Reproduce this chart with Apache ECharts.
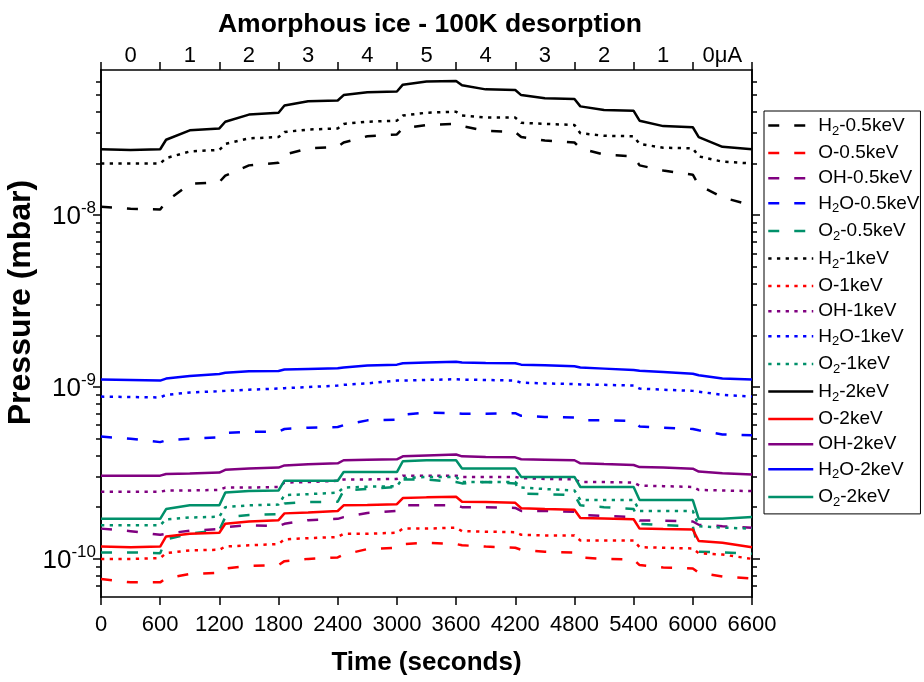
<!DOCTYPE html>
<html>
<head>
<meta charset="utf-8">
<title>Amorphous ice - 100K desorption</title>
<script src="https://cdn.jsdelivr.net/npm/echarts@6/dist/echarts.min.js"></script>
<style>
html, body { margin: 0; padding: 0; background: #fff; }
#chart { width: 924px; height: 682px; }
</style>
</head>
<body>
<div id="chart"></div>
<script>
// time (seconds) of every sample
const times = [0, 300, 600, 660, 900, 1200, 1260, 1500, 1800, 1860, 2100, 2400, 2460, 2700, 3000, 3060, 3300,
	3600, 3660, 3900, 4200, 4260, 4500, 4800, 4860, 5100, 5400, 5460, 5700, 6000, 6060, 6300, 6600];
// beam current labels of the top axis, one per 600 s step
const currentLabels = ["0", "1", "2", "3", "4", "5", "4", "3", "2", "1", "0μA"];
// pressures, in units of 1e-9 mbar
const h2_05 = [11.2, 10.9, 10.8, 12.0, 15.2, 15.6, 17.0, 19.5, 20.2, 22.5, 24.5, 25.0, 26.5, 28.8, 29.5, 32.0, 33.5,
	34.0, 33.0, 31.0, 30.5, 28.5, 27.2, 26.5, 24.5, 22.5, 22.0, 19.5, 18.2, 17.2, 15.0, 12.7, 11.4];
const o_05 = [0.0763, 0.073, 0.073, 0.077, 0.0816, 0.083, 0.088, 0.091, 0.092, 0.097, 0.100, 0.102, 0.106, 0.114, 0.116, 0.122, 0.124,
	0.122, 0.120, 0.118, 0.116, 0.113, 0.110, 0.109, 0.102, 0.100, 0.099, 0.092, 0.089, 0.088, 0.083, 0.079, 0.077];
const oh_05 = [0.150, 0.145, 0.138, 0.140, 0.146, 0.149, 0.153, 0.157, 0.155, 0.160, 0.168, 0.171, 0.175, 0.185, 0.190, 0.205, 0.205,
	0.205, 0.200, 0.200, 0.198, 0.190, 0.190, 0.188, 0.180, 0.178, 0.175, 0.167, 0.167, 0.165, 0.158, 0.155, 0.152];
const h2o_05 = [0.515, 0.500, 0.478, 0.490, 0.500, 0.510, 0.540, 0.550, 0.550, 0.570, 0.580, 0.585, 0.600, 0.640, 0.645, 0.690, 0.710,
	0.705, 0.700, 0.700, 0.705, 0.680, 0.670, 0.665, 0.640, 0.640, 0.635, 0.590, 0.580, 0.570, 0.560, 0.530, 0.525];
const o2_05 = [0.109, 0.109, 0.108, 0.130, 0.140, 0.147, 0.175, 0.180, 0.182, 0.210, 0.214, 0.215, 0.250, 0.255, 0.262, 0.290, 0.290,
	0.280, 0.275, 0.280, 0.275, 0.240, 0.238, 0.235, 0.205, 0.200, 0.195, 0.160, 0.157, 0.155, 0.110, 0.109, 0.107];
const h2_1 = [20.0, 20.0, 20.0, 21.5, 23.5, 24.0, 26.0, 28.0, 28.5, 30.5, 31.5, 32.0, 34.0, 35.0, 35.5, 38.0, 39.5,
	40.0, 38.0, 37.0, 37.0, 34.5, 34.0, 33.5, 30.0, 29.0, 28.8, 26.0, 24.7, 24.5, 22.0, 20.5, 20.0];
const o_1 = [0.100, 0.100, 0.101, 0.108, 0.112, 0.113, 0.118, 0.120, 0.122, 0.130, 0.132, 0.134, 0.140, 0.140, 0.142, 0.150, 0.150,
	0.152, 0.145, 0.144, 0.143, 0.138, 0.137, 0.137, 0.128, 0.128, 0.128, 0.117, 0.116, 0.115, 0.108, 0.106, 0.100];
const oh_1 = [0.246, 0.246, 0.246, 0.250, 0.250, 0.252, 0.260, 0.260, 0.262, 0.278, 0.280, 0.285, 0.290, 0.290, 0.292, 0.305, 0.305,
	0.305, 0.300, 0.300, 0.300, 0.295, 0.292, 0.290, 0.280, 0.280, 0.278, 0.267, 0.265, 0.262, 0.252, 0.250, 0.248];
const h2o_1 = [0.880, 0.875, 0.870, 0.900, 0.930, 0.945, 0.950, 0.965, 0.980, 0.985, 1.000, 1.020, 1.030, 1.050, 1.090, 1.090, 1.100,
	1.110, 1.105, 1.100, 1.090, 1.060, 1.050, 1.040, 1.035, 1.030, 1.020, 0.980, 0.965, 0.950, 0.940, 0.900, 0.880];
const o2_1 = [0.157, 0.157, 0.157, 0.170, 0.174, 0.176, 0.200, 0.205, 0.207, 0.235, 0.238, 0.243, 0.260, 0.263, 0.265, 0.295, 0.300,
	0.300, 0.280, 0.280, 0.280, 0.260, 0.255, 0.250, 0.220, 0.220, 0.220, 0.190, 0.190, 0.190, 0.155, 0.152, 0.150];
const h2_2 = [24.2, 24.0, 24.2, 27.5, 31.2, 32.0, 35.0, 38.5, 39.5, 43.5, 46.0, 46.5, 50.0, 52.0, 52.5, 57.5, 60.0,
	60.5, 57.0, 54.0, 53.5, 50.0, 48.0, 47.5, 43.0, 41.0, 40.5, 35.5, 33.0, 32.5, 28.5, 25.0, 24.2];
const o_2 = [0.118, 0.117, 0.118, 0.135, 0.140, 0.142, 0.160, 0.165, 0.168, 0.184, 0.186, 0.190, 0.205, 0.206, 0.208, 0.226, 0.228,
	0.230, 0.215, 0.214, 0.212, 0.197, 0.195, 0.193, 0.173, 0.172, 0.170, 0.150, 0.149, 0.148, 0.127, 0.124, 0.117];
const oh_2 = [0.305, 0.305, 0.305, 0.312, 0.314, 0.318, 0.330, 0.336, 0.340, 0.350, 0.355, 0.360, 0.375, 0.378, 0.380, 0.395, 0.400,
	0.405, 0.395, 0.392, 0.390, 0.380, 0.378, 0.375, 0.360, 0.356, 0.352, 0.342, 0.340, 0.335, 0.322, 0.315, 0.310];
const h2o_2 = [1.105, 1.100, 1.090, 1.120, 1.160, 1.190, 1.210, 1.235, 1.240, 1.265, 1.275, 1.285, 1.300, 1.335, 1.350, 1.375, 1.390,
	1.405, 1.390, 1.380, 1.375, 1.350, 1.340, 1.320, 1.300, 1.280, 1.255, 1.245, 1.225, 1.195, 1.170, 1.120, 1.105];
const o2_2 = [0.171, 0.171, 0.171, 0.195, 0.205, 0.205, 0.243, 0.248, 0.250, 0.285, 0.285, 0.285, 0.320, 0.320, 0.320, 0.370, 0.375,
	0.375, 0.336, 0.336, 0.336, 0.300, 0.300, 0.300, 0.262, 0.262, 0.262, 0.220, 0.220, 0.220, 0.171, 0.171, 0.175];

const UNIT = 1e-9;
const font = "'Liberation Sans', Arial, sans-serif";

const colors = {
	H2: "#000000",
	O: "#ff0000",
	OH: "#800080",
	H2O: "#0000ff",
	O2: "#00906a"
};
const dashed = [11, 15];
const dotted = [3.3, 5.4];

let lines = [
	["H2-0.5keV", h2_05, colors.H2, dashed],
	["O-0.5keV", o_05, colors.O, dashed],
	["OH-0.5keV", oh_05, colors.OH, dashed],
	["H2O-0.5keV", h2o_05, colors.H2O, dashed],
	["O2-0.5keV", o2_05, colors.O2, dashed],
	["H2-1keV", h2_1, colors.H2, dotted],
	["O-1keV", o_1, colors.O, dotted],
	["OH-1keV", oh_1, colors.OH, dotted],
	["H2O-1keV", h2o_1, colors.H2O, dotted],
	["O2-1keV", o2_1, colors.O2, dotted],
	["H2-2keV", h2_2, colors.H2, "solid"],
	["O-2keV", o_2, colors.O, "solid"],
	["OH-2keV", oh_2, colors.OH, "solid"],
	["H2O-2keV", h2o_2, colors.H2O, "solid"],
	["O2-2keV", o2_2, colors.O2, "solid"]
];

let series = lines.map(function(item) {
	return {
		name: item[0],
		type: "line",
		symbol: "none",
		xAxisIndex: 0,
		yAxisIndex: 0,
		data: times.map(function(t, i) {
			return [t, item[1][i] * UNIT];
		}),
		lineStyle: {
			color: item[2],
			width: 2.5,
			type: item[3],
			cap: "butt"
		},
		itemStyle: {
			color: item[2]
		}
	};
});

// tick positions of the log axis
let majorTicks = [1e-10, 1e-9, 1e-8];
let minorTicks = [];
for (let p = -11; p <= -8; p++) {
	for (let m = 2; m <= 9; m++) {
		let v = m * Math.pow(10, p);
		if (v > 6.05e-11 && v < 6.95e-8) minorTicks.push(v);
	}
}

function legendText(name) {
	let species = name.split("-")[0];
	let rest = name.slice(species.length);
	let out = "";
	for (let ch of species) {
		out += /[0-9]/.test(ch) ? "{u|" + ch + "}" : "{n|" + ch + "}";
	}
	return out + "{n|" + rest + "}";
}

const axisLine = { show: true, lineStyle: { color: "#000", width: 1.6 } };

function yAxisDef(position, ticks, length, withLabels) {
	return {
		type: "log",
		position: position,
		min: 6e-11,
		max: 7e-8,
		axisLine: axisLine,
		splitLine: { show: false },
		minorTick: { show: false },
		axisTick: {
			show: true,
			inside: false,
			length: length,
			customValues: ticks,
			lineStyle: { color: "#000", width: 1.5 }
		},
		axisLabel: withLabels ? {
			show: true,
			margin: 5,
			customValues: majorTicks,
			formatter: function(v) {
				return "{b|10}{s|" + Math.round(Math.log10(v)) + "}";
			},
			rich: {
				b: { fontFamily: font, fontSize: 26, color: "#000", lineHeight: 30, verticalAlign: "bottom" },
				s: { fontFamily: font, fontSize: 17, color: "#000", lineHeight: 30, verticalAlign: "top" }
			}
		} : { show: false }
	};
}

let option = {
	animation: false,
	backgroundColor: "#ffffff",
	title: {
		text: "Amorphous ice - 100K desorption",
		left: 425,
		textAlign: "center",
		top: 6,
		textStyle: {
			fontFamily: font,
			fontSize: 26.5,
			fontWeight: "bold",
			color: "#000"
		}
	},
	grid: {
		left: 101,
		right: 172,
		top: 70,
		bottom: 85,
		outerBoundsMode: "none"
	},
	legend: {
		orient: "vertical",
		left: 764,
		top: 111,
		itemWidth: 45,
		itemHeight: 14,
		itemGap: 6.1,
		padding: [5, 1, 5, 3],
		borderColor: "#000",
		borderWidth: 1,
		borderRadius: 0,
		data: lines.map(function(item) {
			return item[0];
		}),
		itemStyle: { opacity: 0 },
		lineStyle: { width: 2.5 },
		formatter: legendText,
		textStyle: {
			rich: {
				n: { fontFamily: font, fontSize: 19, color: "#000", lineHeight: 24, verticalAlign: "middle" },
				u: { fontFamily: font, fontSize: 13, color: "#000", lineHeight: 10, verticalAlign: "bottom" }
			}
		}
	},
	xAxis: [
		{
			type: "value",
			position: "bottom",
			min: 0,
			max: 6600,
			interval: 600,
			name: "Time (seconds)",
			nameLocation: "middle",
			nameGap: 53,
			nameTextStyle: {
				fontFamily: font,
				fontSize: 26,
				fontWeight: "bold",
				color: "#000"
			},
			axisLine: axisLine,
			splitLine: { show: false },
			axisTick: { show: true, inside: false, length: 8, lineStyle: { color: "#000", width: 1.5 } },
			axisLabel: {
				margin: 17,
				fontFamily: font,
				fontSize: 22,
				color: "#000",
				hideOverlap: false,
				showMinLabel: true,
				showMaxLabel: true,
				formatter: function(v) {
					return String(v);
				}
			}
		},
		{
			type: "category",
			position: "top",
			data: currentLabels,
			boundaryGap: true,
			axisLine: axisLine,
			splitLine: { show: false },
			axisTick: { show: true, inside: false, length: 8, interval: 0, lineStyle: { color: "#000", width: 1.5 } },
			axisLabel: {
				interval: 0,
				margin: 3,
				fontFamily: font,
				fontSize: 22,
				color: "#000"
			}
		}
	],
	yAxis: [
		Object.assign(yAxisDef("left", majorTicks, 8, true), {
			name: "Pressure (mbar)",
			nameLocation: "middle",
			nameGap: 64,
			nameMoveOverlap: false,
			nameRotate: 90,
			nameTextStyle: {
				fontFamily: font,
				fontSize: 32,
				fontWeight: "bold",
				color: "#000",
				padding: [0, 0, 0, 62]
			}
		}),
		yAxisDef("left", minorTicks, 5, false),
		yAxisDef("right", majorTicks, 8, false),
		yAxisDef("right", minorTicks, 5, false)
	],
	series: series
};

let chart = echarts.init(document.getElementById("chart"));
chart.setOption(option);
</script>
</body>
</html>
